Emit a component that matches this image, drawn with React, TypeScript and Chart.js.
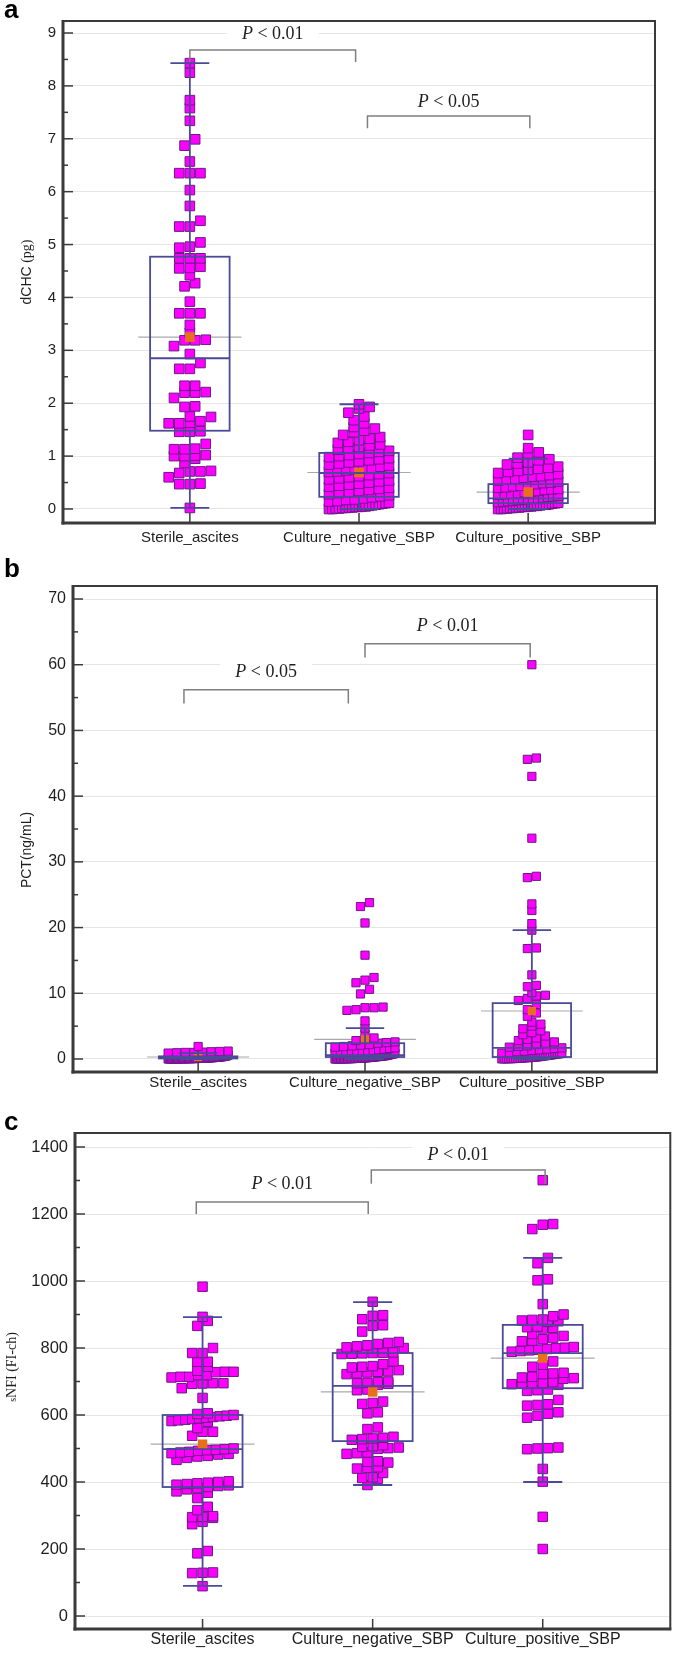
import React, { useEffect, useRef } from 'react';
import { Chart, registerables } from 'chart.js';

Chart.register(...registerables);

const CATEGORIES = ['Sterile_ascites', 'Culture_negative_SBP', 'Culture_positive_SBP'];
const CATEGORY_POS = [1, 2, 3];

// ---------- Panel a : dCHC (pg)
const A_STERILE = [8.43, 8.25, 7.73, 7.58, 7.34, 6.99, 6.87, 6.57, 6.35, 6.35, 6.35, 6.03, 5.73, 5.45, 5.34, 5.34, 5.04, 4.96, 4.94, 4.74, 4.74, 4.74, 4.58, 4.56, 4.55, 4.42, 4.27, 4.21, 3.92, 3.7, 3.7, 3.7, 3.48, 3.33, 3.19, 3.19, 3.2, 3.08, 2.93, 2.76, 2.65, 2.65, 2.33, 2.33, 2.2, 2.2, 2.21, 2.1, 1.93, 1.94, 1.74, 1.75, 1.66, 1.62, 1.62, 1.63, 1.46, 1.46, 1.47, 1.23, 1.13, 1.13, 1.14, 1.0, 1.0, 1.01, 1.02, 0.95, 0.87, 0.71, 0.71, 0.72, 0.68, 0.6, 0.47, 0.47, 0.48, 0.02];
const A_NEGATIVE = [1.98, 1.93, 1.9, 1.82, 1.75, 1.68, 1.62, 1.55, 1.52, 1.48, 1.45, 1.4, 1.36, 1.33, 1.3, 1.27, 1.25, 1.22, 1.2, 1.17, 1.15, 1.12, 1.1, 1.08, 1.06, 1.04, 1.02, 1.0, 0.98, 0.96, 0.94, 0.92, 0.9, 0.88, 0.86, 0.84, 0.82, 0.8, 0.78, 0.76, 0.75, 0.73, 0.71, 0.7, 0.68, 0.66, 0.64, 0.62, 0.6, 0.58, 0.56, 0.54, 0.52, 0.5, 0.48, 0.46, 0.44, 0.42, 0.4, 0.38, 0.36, 0.34, 0.32, 0.3, 0.28, 0.26, 0.24, 0.22, 0.2, 0.18, 0.17, 0.15, 0.14, 0.12, 0.11, 0.1, 0.09, 0.08, 0.07, 0.06, 0.05, 0.05, 0.04, 0.04, 0.03, 0.03, 0.02, 0.02, 0.01, 0.01, 0.0, 0.0];
const A_POSITIVE = [1.4, 1.15, 1.07, 1.05, 0.97, 0.94, 0.92, 0.88, 0.86, 0.84, 0.8, 0.78, 0.76, 0.74, 0.72, 0.7, 0.68, 0.66, 0.64, 0.62, 0.61, 0.59, 0.57, 0.56, 0.54, 0.52, 0.5, 0.49, 0.47, 0.46, 0.44, 0.43, 0.41, 0.4, 0.38, 0.37, 0.36, 0.34, 0.33, 0.32, 0.3, 0.29, 0.28, 0.27, 0.25, 0.24, 0.23, 0.22, 0.21, 0.2, 0.19, 0.18, 0.17, 0.16, 0.15, 0.14, 0.13, 0.12, 0.11, 0.1, 0.09, 0.08, 0.08, 0.07, 0.06, 0.06, 0.05, 0.05, 0.04, 0.04, 0.03, 0.03, 0.02, 0.02, 0.01, 0.01, 0.0, 0.0];
const A_Q1 = [1.48, 0.23, 0.11];
const A_MEDIAN = [2.85, 0.68, 0.2];
const A_Q3 = [4.77, 1.06, 0.47];
const A_WHISKER_LOW = [0.02, 0.0, 0.0];
const A_WHISKER_HIGH = [8.43, 1.98, 0.95];
const A_MEAN = [3.25, 0.69, 0.32];
const A_TICKS = [0, 1, 2, 3, 4, 5, 6, 7, 8, 9];
const A_BRACKETS = [
  { from: 1.0, to: 1.98, level: 8.68, drop: 8.45, textAt: 9.0, label: ' < 0.01' },
  { from: 2.05, to: 3.01, level: 7.43, drop: 7.2, textAt: 7.72, label: ' < 0.05' },
];

// ---------- Panel b : PCT (ng/mL)
const B_STERILE = [1.9, 1.2, 1.15, 1.1, 1.05, 1.0, 1.0, 0.95, 0.9, 0.6, 0.5, 0.45, 0.4, 0.38, 0.35, 0.33, 0.3, 0.28, 0.26, 0.25, 0.24, 0.22, 0.2, 0.19, 0.18, 0.17, 0.16, 0.15, 0.14, 0.13, 0.12, 0.11, 0.1, 0.1, 0.09, 0.08, 0.08, 0.07, 0.07, 0.06, 0.06, 0.05, 0.05, 0.05, 0.04, 0.04, 0.04, 0.03, 0.03, 0.03, 0.02, 0.02, 0.02, 0.02, 0.01, 0.01, 0.01, 0.01, 0.0, 0.0];
const B_NEGATIVE = [23.8, 23.2, 20.7, 15.8, 12.4, 12.0, 11.6, 10.6, 9.9, 7.9, 7.8, 7.8, 7.5, 7.4, 5.8, 4.7, 3.8, 3.2, 3.0, 2.8, 2.6, 2.5, 2.4, 2.2, 2.1, 2.0, 1.9, 1.8, 1.7, 1.6, 1.5, 1.4, 1.3, 1.25, 1.2, 1.1, 1.05, 1.0, 0.95, 0.9, 0.85, 0.8, 0.75, 0.7, 0.65, 0.6, 0.55, 0.5, 0.48, 0.45, 0.42, 0.4, 0.38, 0.35, 0.33, 0.3, 0.28, 0.26, 0.24, 0.22, 0.2, 0.18, 0.16, 0.15, 0.14, 0.12, 0.11, 0.1, 0.09, 0.08, 0.07, 0.06, 0.05, 0.05, 0.04, 0.04, 0.03, 0.03, 0.02, 0.02, 0.01, 0.01, 0.0, 0.0];
const B_POSITIVE = [60.0, 45.8, 45.6, 43.0, 33.6, 27.8, 27.6, 23.6, 22.6, 20.6, 19.6, 16.9, 16.8, 12.8, 11.2, 11.0, 10.1, 9.7, 9.6, 9.2, 8.9, 8.3, 7.5, 7.0, 6.5, 5.6, 5.3, 5.0, 4.6, 4.3, 4.0, 3.7, 3.5, 3.2, 3.0, 2.8, 2.6, 2.4, 2.2, 2.0, 1.9, 1.8, 1.7, 1.6, 1.5, 1.4, 1.3, 1.2, 1.1, 1.0, 0.9, 0.85, 0.8, 0.75, 0.7, 0.65, 0.6, 0.55, 0.5, 0.45, 0.4, 0.35, 0.3, 0.28, 0.25, 0.22, 0.2, 0.18, 0.15, 0.12, 0.1, 0.08, 0.06, 0.05, 0.04, 0.03, 0.02, 0.01];
const B_Q1 = [0.08, 0.3, 0.3];
const B_MEDIAN = [0.15, 0.6, 1.7];
const B_Q3 = [0.4, 2.4, 8.5];
const B_WHISKER_LOW = [0.0, 0.0, 0.0];
const B_WHISKER_HIGH = [0.9, 4.7, 19.6];
const B_MEAN = [0.3, 3.0, 7.3];
const B_TICKS = [0, 10, 20, 30, 40, 50, 60, 70];
const B_BRACKETS = [
  { from: 0.915, to: 1.9, level: 56.2, drop: 54.1, textAt: 59.0, label: ' < 0.05' },
  { from: 2.0, to: 2.99, level: 63.2, drop: 61.1, textAt: 66.0, label: ' < 0.01' },
];

// ---------- Panel c : sNFI (FI-ch)
const C_STERILE = [983, 893, 881, 866, 800, 785, 785, 759, 759, 744, 732, 729, 729, 728, 719, 719, 714, 714, 712, 695, 695, 694, 693, 680, 651, 605, 603, 600, 598, 596, 594, 592, 590, 588, 586, 584, 582, 580, 561, 550, 550, 538, 500, 498, 496, 495, 493, 490, 488, 486, 484, 482, 478, 476, 472, 466, 402, 400, 398, 396, 394, 392, 390, 388, 385, 382, 378, 372, 368, 352, 326, 316, 298, 296, 295, 293, 281, 274, 194, 187, 130, 129, 128, 89];
const C_NEGATIVE = [938, 898, 896, 886, 868, 866, 849, 818, 815, 812, 808, 805, 802, 800, 787, 786, 785, 784, 783, 782, 760, 752, 746, 744, 742, 734, 731, 729, 727, 725, 722, 700, 698, 696, 695, 693, 690, 676, 674, 640, 636, 633, 608, 605, 563, 558, 535, 532, 530, 528, 526, 510, 507, 505, 503, 501, 499, 488, 486, 484, 462, 460, 458, 444, 442, 440, 427, 414, 412, 410, 391];
const C_POSITIVE = [1301, 1170, 1168, 1155, 1069, 1053, 1005, 1002, 931, 900, 895, 885, 884, 882, 880, 878, 864, 862, 860, 858, 842, 836, 830, 826, 822, 820, 803, 801, 799, 797, 795, 793, 791, 789, 760, 750, 744, 726, 724, 722, 714, 712, 710, 708, 698, 696, 695, 694, 692, 690, 676, 674, 672, 645, 632, 630, 628, 608, 604, 598, 592, 503, 501, 500, 498, 439, 401, 296, 200];
const C_Q1 = [385, 522, 680];
const C_MEDIAN = [498, 687, 785];
const C_Q3 = [600, 785, 869];
const C_WHISKER_LOW = [90, 391, 400];
const C_WHISKER_HIGH = [892, 937, 1069];
const C_MEAN = [513, 669, 770];
const C_TICKS = [0, 200, 400, 600, 800, 1000, 1200, 1400];
const C_BRACKETS = [
  { from: 0.963, to: 1.974, level: 1236, drop: 1200, textAt: 1292, label: ' < 0.01' },
  { from: 1.992, to: 3.014, level: 1331, drop: 1290, textAt: 1379, label: ' < 0.01' },
];

// ---------- styles
const SANS = '"Liberation Sans", Arial, sans-serif';
const SERIF = '"Liberation Serif", "Times New Roman", serif';
const POINT_FILL = '#ff00ff';
const POINT_BORDER = '#6a1a8a';
const MEAN_FILL = '#e8701c';
const BOX_COLOR = '#4a4a99';
const MEAN_LINE = '#a9a9a9';
const FRAME = '#3a3a3a';
const GRID = '#e6e6e6';
const BRACKET = '#7f7f7f';
const TEXT = '#1e1e1e';
const BOX_HALF = 0.235;
const CAP_HALF = 0.115;
const MEAN_HALF = 0.305;

const PANELS = [
  {
    letter: 'a', top: 0, height: 552, letterBaseline: 18,
    area: { left: 63, right: 655, top: 21, bottom: 523 },
    yMin: -0.265, yMax: 9.227, ticks: A_TICKS,
    groups: [A_STERILE, A_NEGATIVE, A_POSITIVE],
    q1: A_Q1, median: A_MEDIAN, q3: A_Q3, wLo: A_WHISKER_LOW, wHi: A_WHISKER_HIGH, mean: A_MEAN,
    brackets: A_BRACKETS,
    title: [{ t: 'dCHC', f: '14px ' + SANS }, { t: ' (pg)', f: '14px ' + SERIF }],
    titleX: 26, titleY: 272,
    tickFont: 15, catFont: 15, catPad: 6, radius: 6.8, maxW: 60,
  },
  {
    letter: 'b', top: 552, height: 546, letterBaseline: 25,
    area: { left: 73, right: 657, top: 34, bottom: 520 },
    yMin: -1.98, yMax: 71.98, ticks: B_TICKS,
    groups: [B_STERILE, B_NEGATIVE, B_POSITIVE],
    q1: B_Q1, median: B_MEDIAN, q3: B_Q3, wLo: B_WHISKER_LOW, wHi: B_WHISKER_HIGH, mean: B_MEAN,
    brackets: B_BRACKETS,
    title: [{ t: 'PCT(ng/mL)', f: '14px ' + SANS }],
    titleX: 26, titleY: 298,
    tickFont: 16, catFont: 15, catPad: 2, radius: 5.8, maxW: 60,
  },
  {
    letter: 'c', top: 1098, height: 556, letterBaseline: 32,
    area: { left: 75, right: 674, top: 35, bottom: 531 },
    yMin: -38.8, yMax: 1441.8, ticks: C_TICKS,
    groups: [C_STERILE, C_NEGATIVE, C_POSITIVE],
    q1: C_Q1, median: C_MEDIAN, q3: C_Q3, wLo: C_WHISKER_LOW, wHi: C_WHISKER_HIGH, mean: C_MEAN,
    brackets: C_BRACKETS,
    title: [{ t: 's', f: '10px ' + SERIF }, { t: 'NFI (FI-ch)', f: '14px ' + SERIF }],
    titleX: 11, titleY: 269,
    tickFont: 16.5, catFont: 16, catPad: 1, radius: 6.7, maxW: 62,
  },
];

function seg(ctx: any, x1: number, y1: number, x2: number, y2: number) {
  ctx.beginPath();
  ctx.moveTo(x1, y1);
  ctx.lineTo(x2, y2);
  ctx.stroke();
}

function makePlugin(p: any) {
  return {
    id: 'panel_' + p.letter,
    beforeDatasetsDraw(chart: any) {
      const ctx = chart.ctx;
      const xs = chart.scales.x, ys = chart.scales.y;
      ctx.save();
      ctx.strokeStyle = MEAN_LINE;
      ctx.lineWidth = 1.2;
      CATEGORY_POS.forEach((c, i) => {
        const y = ys.getPixelForValue(p.mean[i]);
        seg(ctx, xs.getPixelForValue(c - MEAN_HALF), y, xs.getPixelForValue(c + MEAN_HALF), y);
      });
      ctx.restore();
    },
    afterDatasetsDraw(chart: any) {
      const ctx = chart.ctx;
      const xs = chart.scales.x, ys = chart.scales.y;
      ctx.save();
      ctx.strokeStyle = BOX_COLOR;
      ctx.lineWidth = 1.8;
      CATEGORY_POS.forEach((c, i) => {
        const xc = xs.getPixelForValue(c);
        const xl = xs.getPixelForValue(c - BOX_HALF);
        const xr = xs.getPixelForValue(c + BOX_HALF);
        const cl = xs.getPixelForValue(c - CAP_HALF);
        const cr = xs.getPixelForValue(c + CAP_HALF);
        const yq1 = ys.getPixelForValue(p.q1[i]);
        const yq3 = ys.getPixelForValue(p.q3[i]);
        const ym = ys.getPixelForValue(p.median[i]);
        const ylo = ys.getPixelForValue(p.wLo[i]);
        const yhi = ys.getPixelForValue(p.wHi[i]);
        seg(ctx, xc, yq3, xc, yhi);
        seg(ctx, xc, yq1, xc, ylo);
        seg(ctx, cl, yhi, cr, yhi);
        seg(ctx, cl, ylo, cr, ylo);
        ctx.strokeRect(xl, yq3, xr - xl, yq1 - yq3);
        seg(ctx, xl, ym, xr, ym);
      });
      ctx.restore();
    },
    afterDraw(chart: any) {
      const ctx = chart.ctx;
      const xs = chart.scales.x, ys = chart.scales.y;
      const { left, right, top, bottom } = chart.chartArea;
      ctx.save();
      // frame
      ctx.strokeStyle = FRAME;
      ctx.lineWidth = 2;
      ctx.strokeRect(left, top, right - left, bottom - top);
      ctx.lineWidth = 3;
      seg(ctx, left, top - 1, left, bottom + 1.5);
      seg(ctx, left - 1.5, bottom, right + 1, bottom);
      // y ticks (inside), major and minor
      ctx.lineWidth = 1.5;
      p.ticks.forEach((v: number, k: number) => {
        const y = ys.getPixelForValue(v);
        seg(ctx, left, y, left + 10, y);
        if (k < p.ticks.length - 1) {
          const ym = ys.getPixelForValue((v + p.ticks[k + 1]) / 2);
          seg(ctx, left, ym, left + 5, ym);
        }
      });
      // x ticks
      CATEGORY_POS.forEach((c) => {
        const x = xs.getPixelForValue(c);
        seg(ctx, x, bottom, x, bottom - 10);
      });
      // brackets with p-values
      p.brackets.forEach((b: any) => {
        const x1 = xs.getPixelForValue(b.from);
        const x2 = xs.getPixelForValue(b.to);
        const yl = ys.getPixelForValue(b.level);
        const yd = ys.getPixelForValue(b.drop);
        const ty = ys.getPixelForValue(b.textAt);
        ctx.font = 'italic 18px ' + SERIF;
        const wP = ctx.measureText('P').width;
        ctx.font = '18px ' + SERIF;
        const wR = ctx.measureText(b.label).width;
        const tot = wP + wR;
        const cx = (x1 + x2) / 2;
        ctx.fillStyle = '#ffffff';
        ctx.fillRect(cx - tot / 2 - 15, ty - 9, tot + 30, 18);
        ctx.strokeStyle = BRACKET;
        ctx.lineWidth = 1.5;
        ctx.beginPath();
        ctx.moveTo(x1, yd);
        ctx.lineTo(x1, yl);
        ctx.lineTo(x2, yl);
        ctx.lineTo(x2, yd);
        ctx.stroke();
        ctx.fillStyle = TEXT;
        ctx.textBaseline = 'alphabetic';
        ctx.textAlign = 'left';
        ctx.font = 'italic 18px ' + SERIF;
        ctx.fillText('P', cx - tot / 2, ty + 6);
        ctx.font = '18px ' + SERIF;
        ctx.fillText(b.label, cx - tot / 2 + wP, ty + 6);
      });
      // y axis title
      ctx.save();
      ctx.translate(p.titleX, p.titleY);
      ctx.rotate(-Math.PI / 2);
      let total = 0;
      p.title.forEach((pt: any) => { ctx.font = pt.f; total += ctx.measureText(pt.t).width; });
      let tx = -total / 2;
      ctx.fillStyle = TEXT;
      ctx.textAlign = 'left';
      ctx.textBaseline = 'alphabetic';
      p.title.forEach((pt: any) => {
        ctx.font = pt.f;
        ctx.fillText(pt.t, tx, 5);
        tx += ctx.measureText(pt.t).width;
      });
      ctx.restore();
      // panel letter
      ctx.fillStyle = '#000';
      ctx.font = 'bold 26px ' + SANS;
      ctx.textAlign = 'left';
      ctx.textBaseline = 'alphabetic';
      ctx.fillText(p.letter, 4, p.letterBaseline);
      ctx.restore();
    },
  };
}

function swarm(values: number[], center: number, xs: any, ys: any, side: number, maxW: number) {
  const cx = xs.getPixelForValue(center);
  const binH = side * 0.7;
  const sorted = values.slice().sort((a, b) => a - b);
  const rows: number[][] = [];
  let cur: number[] | null = null;
  let startPy = 0;
  sorted.forEach((v) => {
    const py = ys.getPixelForValue(v);
    if (!cur || startPy - py > binH) {
      cur = [];
      rows.push(cur);
      startPy = py;
    }
    cur.push(v);
  });
  const pts: any[] = [];
  rows.forEach((row) => {
    const n = row.length;
    const step = n > 1 ? Math.min(side * 1.1, maxW / (n - 1)) : 0;
    row.forEach((v, k) => {
      const px = cx + (k - (n - 1) / 2) * step;
      pts.push({ x: xs.getValueForPixel(px), y: v });
    });
  });
  return pts;
}

function Panel({ p }: { p: any }) {
  const ref = useRef<HTMLCanvasElement>(null);
  useEffect(() => {
    const canvas = ref.current;
    if (!canvas) return;
    const datasets: any[] = [
      {
        label: 'mean',
        data: p.mean.map((m: number, i: number) => ({ x: CATEGORY_POS[i], y: m })),
        pointStyle: 'rect',
        pointRadius: p.radius,
        backgroundColor: MEAN_FILL,
        borderColor: MEAN_FILL,
        borderWidth: 0,
      },
    ];
    p.groups.forEach((vals: number[], gi: number) => {
      datasets.push({
        label: CATEGORIES[gi],
        data: vals.map((v) => ({ x: CATEGORY_POS[gi], y: v })),
        pointStyle: 'rect',
        pointRadius: p.radius,
        backgroundColor: POINT_FILL,
        borderColor: POINT_BORDER,
        borderWidth: 1,
      });
    });
    const chart = new Chart(canvas, {
      type: 'scatter',
      data: { datasets },
      options: {
        responsive: false,
        animation: false,
        events: [],
        layout: { padding: { left: 0, right: 678 - p.area.right, top: p.area.top, bottom: 0 } },
        plugins: { legend: { display: false }, tooltip: { enabled: false } },
        scales: {
          x: {
            type: 'linear',
            min: 0.25,
            max: 3.75,
            afterBuildTicks: (s: any) => { s.ticks = CATEGORY_POS.map((v) => ({ value: v })); },
            afterFit: (s: any) => { s.height = p.height - p.area.bottom; },
            ticks: {
              callback: (_v: any, i: number) => CATEGORIES[i],
              font: { family: SANS, size: p.catFont },
              color: TEXT,
              padding: p.catPad,
              autoSkip: false,
              maxRotation: 0,
              minRotation: 0,
            },
            grid: { display: false, drawTicks: false },
            border: { display: false },
          },
          y: {
            type: 'linear',
            min: p.yMin,
            max: p.yMax,
            afterBuildTicks: (s: any) => { s.ticks = p.ticks.map((v: number) => ({ value: v })); },
            afterFit: (s: any) => { s.width = p.area.left; },
            ticks: {
              callback: (v: any) => String(v),
              font: { family: SANS, size: p.tickFont },
              color: TEXT,
              padding: 7,
            },
            grid: { color: GRID, lineWidth: 1, drawTicks: false },
            border: { display: false },
          },
        },
      } as any,
      plugins: [makePlugin(p)],
    } as any);
    const side = p.radius * Math.SQRT2;
    const xs = chart.scales.x, ys = chart.scales.y;
    p.groups.forEach((vals: number[], gi: number) => {
      chart.data.datasets[gi + 1].data = swarm(vals, CATEGORY_POS[gi], xs, ys, side, p.maxW);
    });
    chart.update('none');
    return () => chart.destroy();
  }, [p]);
  return (
    <canvas
      ref={ref}
      width={678}
      height={p.height}
      style={{ position: 'absolute', left: 0, top: p.top, width: 678, height: p.height }}
    />
  );
}

export default function App() {
  return (
    <div style={{ position: 'absolute', left: 0, top: 0, width: 678, height: 1654, background: '#ffffff', overflow: 'hidden' }}>
      {PANELS.map((p) => (
        <Panel key={p.letter} p={p} />
      ))}
    </div>
  );
}
